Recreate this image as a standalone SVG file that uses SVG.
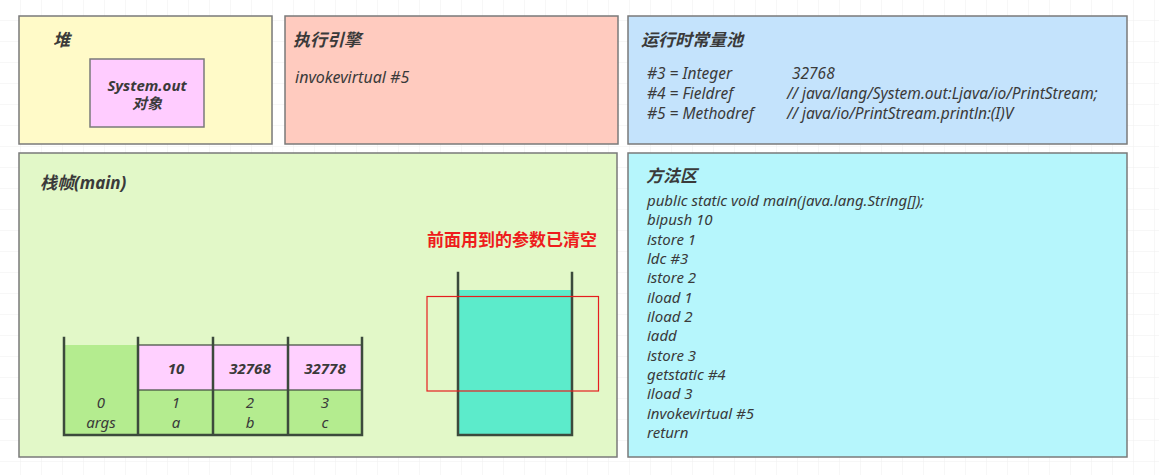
<svg xmlns="http://www.w3.org/2000/svg" width="1159" height="475" viewBox="0 0 1159 475">
<style>
.box{stroke:#7a7a7a;stroke-width:1.5}
.t{font-family:"Noto Sans","Noto Sans CJK SC",sans-serif;font-style:italic;fill:#3a3a3a}
.h{font-size:17px;font-weight:bold}
.c{font-size:15px}
.p{font-size:16px}
.q{font-size:15.5px}
.l{font-size:15px}
.m{text-anchor:middle}
.wall{stroke:#3c4a3c;stroke-width:2.5;fill:none;stroke-linecap:square}
.cell{stroke:#3c4a3c;stroke-width:1.2}
.v{font-size:15px;font-weight:bold}
</style>
<defs>
<pattern id="grid" width="21" height="21" patternUnits="userSpaceOnUse">
<path d="M21 0V21M0 21H21" stroke="#efefef" stroke-width="1" fill="none"/>
</pattern>
</defs>
<rect width="1159" height="475" fill="#ffffff"/>
<rect width="1159" height="475" fill="url(#grid)"/>

<g id="heap">
<rect class="box" x="19" y="16" width="253" height="128" fill="#fffac8"/>
<text class="t h" x="53" y="46">堆</text>
<g id="system-out">
<rect class="box" x="90" y="59" width="114" height="68" fill="#ffccff"/>
<text class="t m" x="147" y="91" font-size="15" font-weight="bold">System.out</text>
<text class="t m" x="147" y="109" font-size="15" font-weight="bold">对象</text>
</g>
</g>

<g id="engine">
<rect class="box" x="285" y="16" width="333" height="128" fill="#ffcbbf"/>
<text class="t h" x="293" y="46">执行引擎</text>
<text class="t p" x="295" y="83">invokevirtual #5</text>
</g>

<g id="pool">
<rect class="box" x="628" y="16" width="499" height="128" fill="#c4e3fc"/>
<text class="t h" x="641" y="46">运行时常量池</text>
<text class="t q" x="647" y="79">#3 = Integer</text>
<text class="t q" x="792" y="79">32768</text>
<text class="t q" x="647" y="99">#4 = Fieldref</text>
<text class="t q" x="787" y="99">// java/lang/System.out:Ljava/io/PrintStream;</text>
<text class="t q" x="647" y="119">#5 = Methodref</text>
<text class="t q" x="787" y="119">// java/io/PrintStream.println:(I)V</text>
</g>

<g id="frame">
<rect class="box" x="19" y="153" width="598" height="304" fill="#e2f8c8"/>
<text class="t h" x="40" y="189">栈帧(main)</text>
<text x="427" y="246" font-family="'Noto Sans CJK SC',sans-serif" font-size="17" font-weight="bold" fill="#ee1c1c">前面用到的参数已清空</text>
</g>

<g id="locals">
<rect x="64" y="345" width="74" height="90" fill="#b4ec8f"/>
<rect x="138" y="390" width="224" height="45" fill="#b4ec8f"/>
<rect class="cell" x="138" y="345" width="224" height="45" fill="#ffd0ff"/>
<line class="cell" x1="213" y1="345" x2="213" y2="390"/>
<line class="cell" x1="288" y1="345" x2="288" y2="390"/>
<path class="wall" d="M64 338V435H362V338M138 338V435M213 338V435M288 338V435"/>
<text class="t m v" x="176" y="374">10</text>
<text class="t m v" x="250" y="374">32768</text>
<text class="t m v" x="325" y="374">32778</text>
<text class="t m l" x="101" y="408">0</text>
<text class="t m l" x="101" y="428">args</text>
<text class="t m l" x="176" y="408">1</text>
<text class="t m l" x="176" y="428">a</text>
<text class="t m l" x="250" y="408">2</text>
<text class="t m l" x="250" y="428">b</text>
<text class="t m l" x="325" y="408">3</text>
<text class="t m l" x="325" y="428">c</text>
</g>

<g id="operand-stack">
<rect x="458" y="290" width="114" height="145" fill="#5cebcb"/>
<path class="wall" d="M458 273V435H572V273"/>
</g>

<g id="highlight">
<rect x="427" y="296.5" width="171.5" height="94.5" fill="none" stroke="#e61e1e" stroke-width="1.2"/>
</g>

<g id="method-area">
<rect class="box" x="628" y="153" width="499" height="304" fill="#b6f6fc"/>
<text class="t h" x="646" y="182">方法区</text>
<text class="t c" x="647" y="206">public static void main(java.lang.String[]);</text>
<text class="t c" x="647" y="225">bipush 10</text>
<text class="t c" x="647" y="245">istore 1</text>
<text class="t c" x="647" y="264">ldc #3</text>
<text class="t c" x="647" y="283">istore 2</text>
<text class="t c" x="647" y="303">iload 1</text>
<text class="t c" x="647" y="322">iload 2</text>
<text class="t c" x="647" y="341">iadd</text>
<text class="t c" x="647" y="361">istore 3</text>
<text class="t c" x="647" y="380">getstatic #4</text>
<text class="t c" x="647" y="399">iload 3</text>
<text class="t c" x="647" y="419">invokevirtual #5</text>
<text class="t c" x="647" y="438">return</text>
</g>

<g id="connectors"></g>
</svg>
